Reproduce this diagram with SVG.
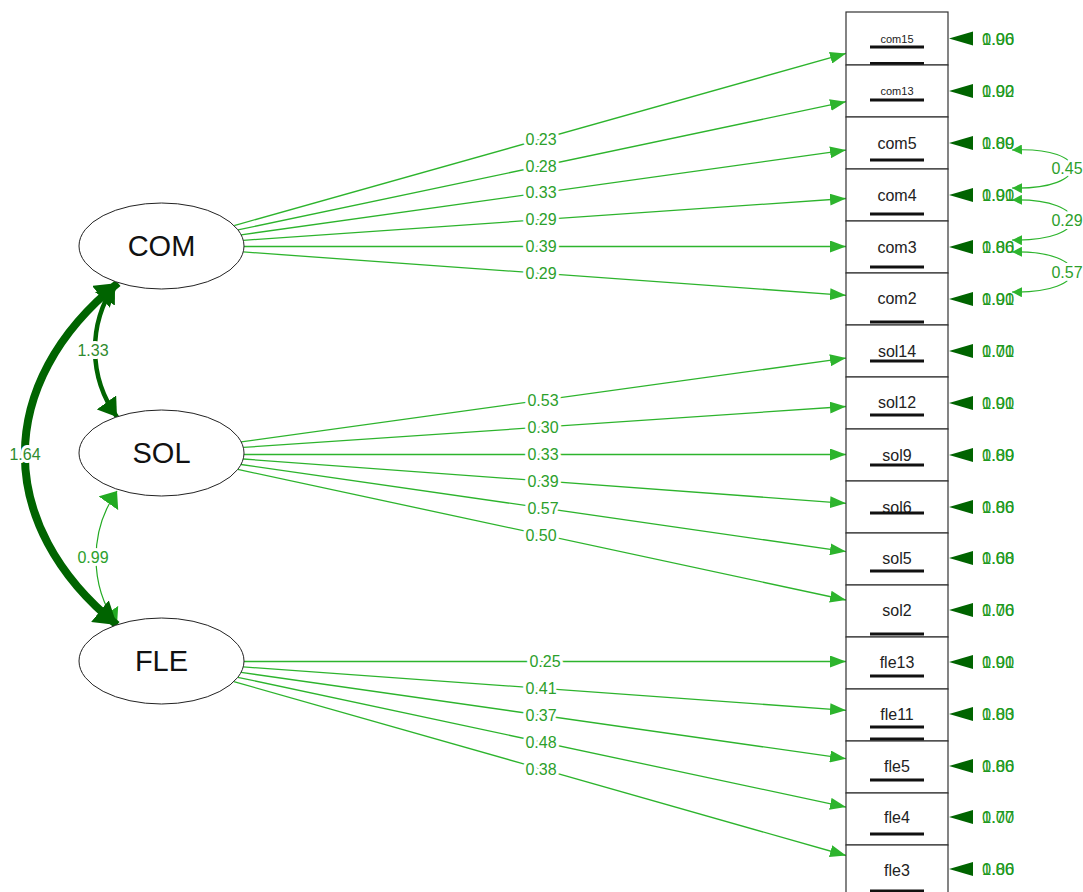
<svg xmlns="http://www.w3.org/2000/svg" width="1083" height="892" viewBox="0 0 1083 892">
<style>
.lat{fill:#fff;stroke:#222;stroke-width:1}
.latt{font-family:"Liberation Sans",Arial,sans-serif;font-size:29px;fill:#111;text-anchor:middle}
.box{fill:#fff;stroke:#333;stroke-width:1.2}
.bt{font-family:"Liberation Sans",Arial,sans-serif;font-size:16px;fill:#222;text-anchor:middle}
.bts{font-family:"Liberation Sans",Arial,sans-serif;font-size:11px;fill:#222;text-anchor:middle}
.ul{stroke:#111;stroke-width:3}
.ld{stroke:#2db42d;stroke-width:1.3;fill:none;marker-end:url(#ah)}
.lbl{font-family:"Liberation Sans",Arial,sans-serif;font-size:16px;fill:#2ca02c;text-anchor:middle;stroke:#fff;stroke-width:6;paint-order:stroke;stroke-linejoin:round}
.res{fill:#006400}
.rt{font-family:"Liberation Sans",Arial,sans-serif;font-size:16.5px;fill:#1f9a1f}
.rc{stroke:#2db42d;stroke-width:1.2;fill:none;marker-start:url(#sh);marker-end:url(#sh)}
</style>
<defs>
<marker id="ah" markerUnits="userSpaceOnUse" markerWidth="17" markerHeight="12" refX="16" refY="6" orient="auto"><path d="M0,0 L16,6 L0,12 z" fill="#2db42d"/></marker>
<marker id="sh" markerUnits="userSpaceOnUse" markerWidth="11" markerHeight="10" refX="10" refY="5" orient="auto-start-reverse"><path d="M0,0 L10,5 L0,10 z" fill="#2db42d"/></marker>
<marker id="bh" markerUnits="userSpaceOnUse" markerWidth="23" markerHeight="28" refX="22" refY="14" orient="auto-start-reverse"><path d="M0,0 L22,14 L0,28 z" fill="#006400"/></marker>
<marker id="mh" markerUnits="userSpaceOnUse" markerWidth="19" markerHeight="24" refX="18" refY="12" orient="auto-start-reverse"><path d="M0,0 L18,12 L0,24 z" fill="#006400"/></marker>
<marker id="lh" markerUnits="userSpaceOnUse" markerWidth="16" markerHeight="24" refX="15" refY="12" orient="auto-start-reverse"><path d="M0,0 L15,12 L0,24 z" fill="#22aa22"/></marker>
</defs>
<rect width="1083" height="892" fill="#fff"/>

<g id="connectors">
<path class="ld" d="M234.1,225.6 L846,53.4"/>
<path class="ld" d="M238,229.9 L846,101.7"/>
<path class="ld" d="M241.2,234.8 L846,150.1"/>
<path class="ld" d="M243.3,240.3 L846,198.5"/>
<path class="ld" d="M244,246.5 L846,246.5"/>
<path class="ld" d="M243.2,251.9 L846,295.3"/>
<path class="ld" d="M241.2,441.9 L846,358.1"/>
<path class="ld" d="M243.3,447.4 L846,406.5"/>
<path class="ld" d="M244,454.5 L846,454.5"/>
<path class="ld" d="M243.2,459 L846,503.3"/>
<path class="ld" d="M241,464.5 L846,551.6"/>
<path class="ld" d="M237.8,469.4 L846,600"/>
<path class="ld" d="M244,661.5 L846,661.5"/>
<path class="ld" d="M243.2,666.9 L846,710.3"/>
<path class="ld" d="M241.1,672.4 L846,758.7"/>
<path class="ld" d="M237.8,677.3 L846,807.1"/>
<path class="ld" d="M233.9,681.6 L846,855.5"/>
<text class="lbl" x="541" y="145">0.23</text>
<text class="lbl" x="541" y="172">0.28</text>
<text class="lbl" x="541" y="198">0.33</text>
<text class="lbl" x="541" y="225">0.29</text>
<text class="lbl" x="541" y="252">0.39</text>
<text class="lbl" x="541" y="279">0.29</text>
<text class="lbl" x="543" y="406">0.53</text>
<text class="lbl" x="543" y="433">0.30</text>
<text class="lbl" x="543" y="460">0.33</text>
<text class="lbl" x="543" y="487">0.39</text>
<text class="lbl" x="543" y="514">0.57</text>
<text class="lbl" x="541" y="541">0.50</text>
<text class="lbl" x="545" y="667">0.25</text>
<text class="lbl" x="541" y="694">0.41</text>
<text class="lbl" x="541" y="721">0.37</text>
<text class="lbl" x="541" y="748">0.48</text>
<text class="lbl" x="541" y="775">0.38</text>

<path d="M117,491 C89,531 89,585 117,625" fill="none" stroke="#22aa22" stroke-width="1.2" marker-start="url(#lh)" marker-end="url(#lh)"/>
<path d="M118,283 C-6,383 -6,525 117,625" fill="none" stroke="#006400" stroke-width="8" marker-start="url(#bh)" marker-end="url(#bh)"/>
<path d="M115,284 C88,324 88,377 117,417" fill="none" stroke="#006400" stroke-width="4.5" marker-start="url(#mh)" marker-end="url(#mh)"/>
<text class="lbl" x="93" y="356" style="fill:#2e8b2e">1.33</text>
<text class="lbl" x="25" y="460" style="fill:#2e8b2e">1.64</text>
<text class="lbl" x="93" y="563">0.99</text>

<path class="rc" d="M1012,150 C1092,146 1092,190 1012,188"/>
<path class="rc" d="M1012,200 C1092,198 1092,242 1012,240"/>
<path class="rc" d="M1012,252 C1092,250 1092,294 1012,292"/>
<text class="lbl" x="1067" y="174">0.45</text>
<text class="lbl" x="1067" y="226">0.29</text>
<text class="lbl" x="1067" y="278">0.57</text>

<g class="res">
<polygon points="949,38.5 973,31.5 973,45.5"/>
<polygon points="949,91 973,84 973,98"/>
<polygon points="949,143 973,136 973,150"/>
<polygon points="949,195 973,188 973,202"/>
<polygon points="949,247 973,240 973,254"/>
<polygon points="949,299 973,292 973,306"/>
<polygon points="949,351 973,344 973,358"/>
<polygon points="949,403 973,396 973,410"/>
<polygon points="949,455 973,448 973,462"/>
<polygon points="949,507 973,500 973,514"/>
<polygon points="949,558 973,551 973,565"/>
<polygon points="949,610 973,603 973,617"/>
<polygon points="949,662 973,655 973,669"/>
<polygon points="949,714 973,707 973,721"/>
<polygon points="949,766 973,759 973,773"/>
<polygon points="949,817 973,810 973,824"/>
<polygon points="949,869 973,862 973,876"/>
</g>
<g class="rt">
<text x="982" y="44.5">1.00</text><text x="982" y="44.5">0.96</text>
<text x="982" y="97">1.00</text><text x="982" y="97">0.92</text>
<text x="982" y="149">1.00</text><text x="982" y="149">0.89</text>
<text x="982" y="201">1.00</text><text x="982" y="201">0.91</text>
<text x="982" y="253">1.00</text><text x="982" y="253">0.86</text>
<text x="982" y="305">1.00</text><text x="982" y="305">0.91</text>
<text x="982" y="357">1.00</text><text x="982" y="357">0.71</text>
<text x="982" y="409">1.00</text><text x="982" y="409">0.91</text>
<text x="982" y="461">1.00</text><text x="982" y="461">0.89</text>
<text x="982" y="513">1.00</text><text x="982" y="513">0.86</text>
<text x="982" y="564">1.00</text><text x="982" y="564">0.68</text>
<text x="982" y="616">1.00</text><text x="982" y="616">0.76</text>
<text x="982" y="668">1.00</text><text x="982" y="668">0.91</text>
<text x="982" y="720">1.00</text><text x="982" y="720">0.83</text>
<text x="982" y="772">1.00</text><text x="982" y="772">0.86</text>
<text x="982" y="823">1.00</text><text x="982" y="823">0.77</text>
<text x="982" y="875">1.00</text><text x="982" y="875">0.86</text>
</g>
</g>

<g id="COM"><ellipse class="lat" cx="161.5" cy="246" rx="82.5" ry="43"/><text class="latt" x="161.5" y="256">COM</text></g>
<g id="SOL"><ellipse class="lat" cx="161.5" cy="453" rx="82.5" ry="43"/><text class="latt" x="161.5" y="463">SOL</text></g>
<g id="FLE"><ellipse class="lat" cx="161.5" cy="661" rx="82.5" ry="43"/><text class="latt" x="161.5" y="671">FLE</text></g>

<g id="com15"><rect class="box" x="846" y="12" width="102" height="53"/><text class="bts" x="897" y="43">com15</text><line class="ul" x1="870" y1="47" x2="924" y2="47"/><line class="ul" x1="870" y1="63.5" x2="924" y2="63.5"/></g>
<g id="com13"><rect class="box" x="846" y="65" width="102" height="52"/><text class="bts" x="897" y="95">com13</text><line class="ul" x1="870" y1="100" x2="924" y2="100"/></g>
<g id="com5"><rect class="box" x="846" y="117" width="102" height="52"/><text class="bt" x="897" y="149">com5</text><line class="ul" x1="870" y1="160" x2="924" y2="160"/></g>
<g id="com4"><rect class="box" x="846" y="169" width="102" height="52"/><text class="bt" x="897" y="201">com4</text><line class="ul" x1="870" y1="214" x2="924" y2="214"/></g>
<g id="com3"><rect class="box" x="846" y="221" width="102" height="52"/><text class="bt" x="897" y="253">com3</text><line class="ul" x1="870" y1="267" x2="924" y2="267"/></g>
<g id="com2"><rect class="box" x="846" y="273" width="102" height="52"/><text class="bt" x="897" y="304">com2</text><line class="ul" x1="870" y1="322" x2="924" y2="322"/></g>
<g id="sol14"><rect class="box" x="846" y="325" width="102" height="52"/><text class="bt" x="897" y="357">sol14</text><line class="ul" x1="870" y1="361" x2="924" y2="361"/></g>
<g id="sol12"><rect class="box" x="846" y="377" width="102" height="52"/><text class="bt" x="897" y="408">sol12</text><line class="ul" x1="870" y1="415" x2="924" y2="415"/></g>
<g id="sol9"><rect class="box" x="846" y="429" width="102" height="52"/><text class="bt" x="897" y="461">sol9</text><line class="ul" x1="870" y1="465" x2="924" y2="465"/></g>
<g id="sol6"><rect class="box" x="846" y="481" width="102" height="52"/><text class="bt" x="897" y="513">sol6</text><line class="ul" x1="870" y1="513" x2="924" y2="513"/></g>
<g id="sol5"><rect class="box" x="846" y="533" width="102" height="52"/><text class="bt" x="897" y="564">sol5</text><line class="ul" x1="870" y1="571" x2="924" y2="571"/></g>
<g id="sol2"><rect class="box" x="846" y="585" width="102" height="52"/><text class="bt" x="897" y="616">sol2</text><line class="ul" x1="870" y1="634" x2="924" y2="634"/></g>
<g id="fle13"><rect class="box" x="846" y="637" width="102" height="52"/><text class="bt" x="897" y="668">fle13</text><line class="ul" x1="870" y1="676" x2="924" y2="676"/></g>
<g id="fle11"><rect class="box" x="846" y="689" width="102" height="52"/><text class="bt" x="897" y="720">fle11</text><line class="ul" x1="870" y1="727" x2="924" y2="727"/><line class="ul" x1="870" y1="739" x2="924" y2="739"/></g>
<g id="fle5"><rect class="box" x="846" y="741" width="102" height="52"/><text class="bt" x="897" y="772">fle5</text><line class="ul" x1="870" y1="780" x2="924" y2="780"/></g>
<g id="fle4"><rect class="box" x="846" y="793" width="102" height="52"/><text class="bt" x="897" y="823">fle4</text><line class="ul" x1="870" y1="834" x2="924" y2="834"/></g>
<g id="fle3"><rect class="box" x="846" y="845" width="102" height="52"/><text class="bt" x="897" y="876">fle3</text><line class="ul" x1="870" y1="891" x2="924" y2="891"/></g>
</svg>
